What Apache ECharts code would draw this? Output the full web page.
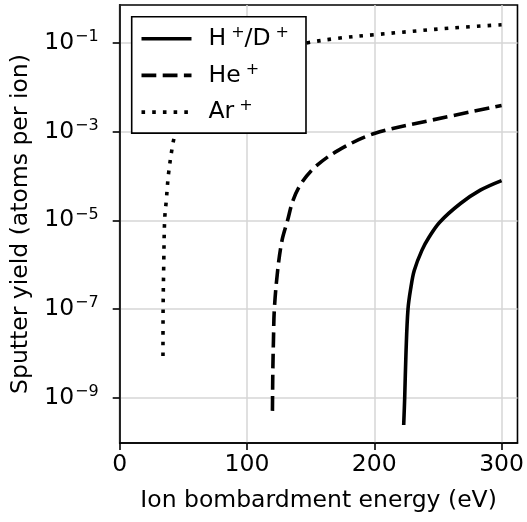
<!DOCTYPE html>
<html>
<head>
<meta charset="utf-8">
<script src="https://cdn.jsdelivr.net/npm/echarts@6/dist/echarts.min.js"></script>
<style>
  html, body { margin: 0; padding: 0; background: #fff; }
  #chart { width: 527px; height: 522px; }
</style>
</head>
<body>
<div id="chart"></div>
<script>
// Sputter yield vs. ion bombardment energy for three projectile species

// H+/D+ projectiles
const energyH = [223.1, 223.9, 224.9, 226.5, 228.8, 231.4, 237.4, 243.1, 251.4, 267.7, 283.3, 300];
const yieldH  = [2.4e-10, 1.0e-9, 1.0e-8, 1.0e-7, 3.1e-7, 7.4e-7, 2.1e-6, 4.2e-6, 9.1e-6, 2.4e-5, 4.8e-5, 7.9e-5];

// He+ projectiles
const energyHe = [120.0, 120.3, 120.8, 121.5, 124.1, 127.5, 131.9, 136.1, 142.6, 153.5, 171.7, 200, 244, 300];
const yieldHe  = [5.0e-10, 4.0e-9, 2.0e-8, 1.0e-7, 7.4e-7, 3.5e-6, 1.0e-5, 2.8e-5, 6.8e-5, 1.6e-4, 3.8e-4, 9.1e-4, 1.8e-3, 3.9e-3];

// Ar+ projectiles
const energyAr = [34.0, 34.1, 34.6, 35.3, 36.6, 38.4, 41.8, 43.9, 50, 60, 75, 95, 120, 145.7, 171.7, 200, 260, 300];
const yieldAr  = [8.7e-9, 1.0e-7, 1.0e-6, 1.0e-5, 2.8e-5, 1.15e-4, 5.4e-4, 9.5e-4, 3.5e-3, 1.0e-2, 2.5e-2, 4.5e-2, 7.0e-2, 0.10, 0.129, 0.155, 0.219, 0.26];

const seriesNames = ['H+/D+', 'He+', 'Ar+'];
const legendLabels = {
  'H+/D+': '{g|}{n|H}{s|+}{n|/D}{s|+}',
  'He+': '{g|}{n|He}{s|+}',
  'Ar+': '{g|}{n|Ar}{s|+}'
};

const xTicks = [0, 100, 200, 300];
const yTicks = [1e-9, 1e-7, 1e-5, 1e-3, 1e-1];

const FONT = 'DejaVu Sans';
const FS = 23.5;
const FS_SUP = 16;

function pairs(xs, ys) {
  return xs.map((x, i) => [x, ys[i]]);
}

const chart = echarts.init(document.getElementById('chart'), null, { renderer: 'canvas' });

const lineBase = { color: '#000', width: 3.6, cap: 'butt', join: 'round' };
const dashes = { 'H+/D+': 'solid', 'He+': [14.8, 6.4], 'Ar+': [3.6, 7.1] };

function makeSeries(name, xs, ys) {
  return {
    name: name, type: 'line', data: pairs(xs, ys),
    symbol: 'none', showSymbol: false, smooth: 0.35,
    color: '#000',
    itemStyle: { color: '#000', opacity: 0 },
    lineStyle: Object.assign({}, lineBase, { type: dashes[name] })
  };
}

chart.setOption({
  animation: false,
  backgroundColor: '#fff',
  grid: {
    left: 119.7, top: 5, width: 401, height: 438,
    show: true, borderColor: '#000', borderWidth: 1.6, backgroundColor: 'transparent'
  },
  legend: {
    data: seriesNames,
    orient: 'vertical',
    left: 131.7, top: 16.7,
    backgroundColor: '#fff',
    borderColor: '#000', borderWidth: 1.6, borderRadius: 0,
    padding: [8, 17, 9, 8],
    itemWidth: 50, itemHeight: 24, itemGap: 10.7,
    lineStyle: { width: 3.6, color: '#000', cap: 'butt' },
    formatter: name => legendLabels[name],
    textStyle: {
      color: '#000', fontFamily: FONT, fontSize: FS,
      rich: {
        g: { width: 12 },
        n: { fontFamily: FONT, fontSize: FS, color: '#000' },
        s: { fontFamily: FONT, fontSize: FS_SUP, color: '#000', padding: [0, 0, 12, 5] }
      }
    }
  },
  xAxis: {
    type: 'value', min: 0, max: 312.5, interval: 100,
    name: 'Ion bombardment energy (eV)', nameLocation: 'middle', nameGap: 46,
    nameTextStyle: { fontFamily: FONT, fontSize: FS, color: '#000' },
    axisLine: { show: true, onZero: false, lineStyle: { color: '#000', width: 1.6 } },
    axisTick: { show: true, length: 7, lineStyle: { color: '#000', width: 1.6 }, customValues: xTicks },
    axisLabel: { fontFamily: FONT, fontSize: FS, color: '#000', margin: 10, customValues: xTicks },
    splitLine: { show: true, lineStyle: { color: '#d6d6d6', width: 1.5 } }
  },
  yAxis: {
    type: 'log', logBase: 10,
    min: Math.pow(10, -10.026), max: Math.pow(10, -0.139),
    name: 'Sputter yield (atoms per ion)', nameLocation: 'middle', nameGap: 87,
    nameTextStyle: { fontFamily: FONT, fontSize: FS, color: '#000' },
    axisLine: { show: true, onZero: false, lineStyle: { color: '#000', width: 1.6 } },
    axisTick: { show: true, length: 7, lineStyle: { color: '#000', width: 1.6 }, customValues: yTicks },
    axisLabel: {
      customValues: yTicks,
      margin: 21,
      formatter: v => {
        const e = Math.round(Math.log10(v));
        return '{b|10}{e|' + (e < 0 ? '\u2212' + (-e) : e) + '}';
      },
      rich: {
        b: { fontFamily: FONT, fontSize: FS, color: '#000' },
        e: { fontFamily: FONT, fontSize: FS_SUP, color: '#000', padding: [0, 0, 12, 1] }
      }
    },
    splitLine: { show: true, lineStyle: { color: '#d6d6d6', width: 1.5 } }
  },
  series: [
    makeSeries(seriesNames[0], energyH, yieldH),
    makeSeries(seriesNames[1], energyHe, yieldHe),
    makeSeries(seriesNames[2], energyAr, yieldAr)
  ]
});
</script>
</body>
</html>
